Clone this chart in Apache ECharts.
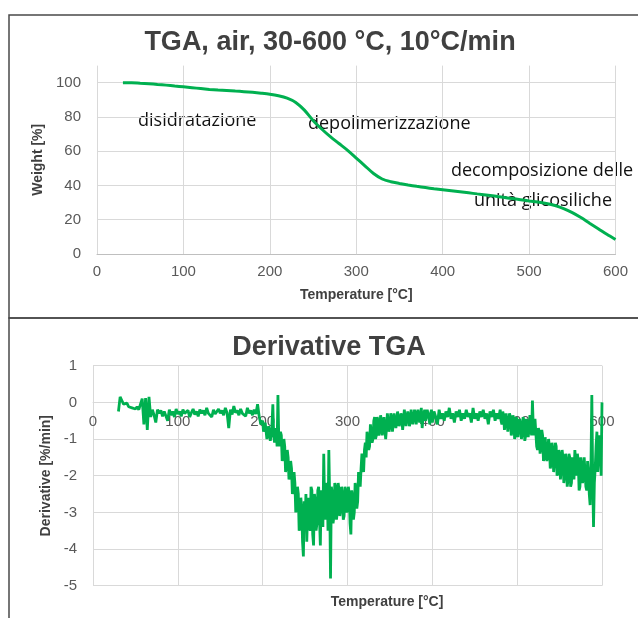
<!DOCTYPE html>
<html>
<head>
<meta charset="utf-8">
<script src="https://cdn.jsdelivr.net/npm/echarts@6/dist/echarts.min.js"></script>
<style>
  html, body { margin: 0; padding: 0; background: #fff; }
  #main { width: 638px; height: 618px; }
</style>
</head>
<body>
<div id="main"></div>
<script>
// TGA curve: temperature [°C] and weight [%]
let tga_temp = [30, 40, 50, 60, 70, 80, 90, 100, 110, 120, 130, 140, 150, 160, 170, 180, 190, 200,
	210, 220, 230, 240, 250, 260, 270, 280, 290, 300, 310, 320, 330, 340, 350, 360, 370, 380, 390, 400,
	410, 420, 430, 440, 450, 460, 470, 480, 490, 500, 510, 520, 530, 540, 550, 560, 570, 580, 590, 600];
let tga_weight = [100, 100, 99.7, 99.4, 99, 98.6, 98.1, 97.6, 97.1, 96.6, 96.1, 95.7, 95.4, 95.1, 94.8, 94.4, 93.9, 93.3,
	92.4, 91, 88.5, 84, 78, 73, 68.5, 64.5, 60.5, 56, 51.5, 47, 43.8, 42.2, 41.2, 40.3, 39.5, 38.8, 38.1, 37.5,
	36.9, 36.3, 35.7, 35.1, 34.5, 33.8, 33.1, 32.4, 31.7, 31, 30.3, 29.5, 28.3, 26.5, 24.2, 21.3, 18, 14.8, 11.5, 8.5];

// DTG curve: [temperature, derivative %/min]
let dtg_points = [
	[30, -0.25], [32, 0.15], [34, 0.05], [36, -0.05], [38, -0.1], [40, -0.02], [42, -0.12], [44, -0.08], [46, -0.15], [48, -0.1],
	[50, -0.18], [52, -0.12], [54, -0.2], [56, -0.15], [58, 0.1], [60, -0.6], [62, 0.12], [64, -0.75], [66, 0.15], [68, -0.4],
	[70, -0.2], [72, -0.35], [74, -0.55], [76, -0.2], [78, -0.3], [80, -0.22], [82, -0.38], [84, -0.25], [86, -0.3], [88, -0.5],
	[90, -0.2], [92, -0.35], [94, -0.25], [96, -0.4], [98, -0.18], [100, -0.32], [102, -0.25], [104, -0.38], [106, -0.2], [108, -0.3],
	[110, -0.35], [112, -0.22], [114, -0.4], [116, -0.28], [118, -0.18], [120, -0.33], [122, -0.25], [124, -0.38], [126, -0.2], [128, -0.3],
	[130, -0.22], [132, -0.35], [134, -0.15], [136, -0.3], [138, -0.25], [140, -0.4], [142, -0.2], [144, -0.32], [146, -0.28], [148, -0.18],
	[150, -0.3], [152, -0.22], [154, -0.35], [156, -0.15], [158, -0.28], [160, -0.7], [162, -0.2], [164, -0.33], [166, -0.1], [168, -0.28],
	[170, -0.22], [172, -0.35], [174, -0.18], [176, -0.3], [178, -0.25], [180, -0.38], [182, -0.15], [184, -0.3], [186, -0.22], [188, -0.35],
	[190, -0.2], [192, -0.32], [194, -0.05], [196, -0.4], [198, -0.6],
	[200, -0.5], [201, -0.8], [202, -0.85], [203, -0.55], [204, -0.6], [205, -1.0], [206, -0.95], [207, -0.65], [208, -0.7], [209, -1.05],
	[210, -0.9], [211, -0.6], [212, -0.05], [213, -0.9], [214, -1.1], [215, -0.7], [216, -0.8], [217, -1.2], [218, 0.2], [219, -1.0],
	[220, -1.2], [221, -0.8], [222, -0.9], [223, -1.6], [224, -1.5], [225, -1.0], [226, -1.2], [227, -1.9], [228, -1.7], [229, -1.3],
	[230, -1.5], [231, -2.1], [232, -2.0], [233, -1.6], [234, -1.8], [235, -2.5], [236, -2.4], [237, -1.9], [238, -2.2], [239, -3.0],
	[240, -2.8], [241, -2.3], [242, -2.5], [243, -3.5], [244, -3.4], [245, -2.6], [246, -2.9], [247, -3.8], [248, -4.2], [249, -2.7],
	[250, -3.2], [251, -2.5], [252, -3.8], [253, -3.0], [254, -2.6], [255, -3.4], [256, -3.5], [257, -2.3], [258, -2.4], [259, -3.6],
	[260, -3.9], [261, -2.5], [262, -2.7], [263, -3.5], [264, -3.3], [265, -2.4], [266, -2.3], [267, -3.2], [268, -3.9], [269, -2.4],
	[270, -2.6], [271, -3.4], [272, -1.4], [273, -2.8], [274, -3.2], [275, -2.3], [276, -2.2], [277, -3.5], [278, -1.3], [279, -2.6],
	[280, -4.8], [281, -2.3], [282, -2.5], [283, -3.3], [284, -3.1], [285, -2.2], [286, -2.3], [287, -3.2], [288, -3.0], [289, -2.2],
	[290, -2.4], [291, -3.1], [292, -2.9], [293, -2.3], [294, -2.5], [295, -3.2], [296, -3.1], [297, -2.3], [298, -2.4], [299, -3.0],
	[300, -2.9], [301, -2.3], [302, -2.5], [303, -3.3], [304, -3.6], [305, -2.4], [306, -2.6], [307, -3.2], [308, -3.0], [309, -2.2],
	[310, -2.4], [311, -2.9], [312, -2.7], [313, -1.9], [314, -2.1], [315, -2.3], [316, -1.8], [317, -1.4], [318, -1.6], [319, -1.9],
	[320, -1.3], [321, -1.1], [322, -1.5], [323, -0.8], [324, -1.0], [325, -1.3], [326, -1.2], [327, -0.6], [328, -0.8], [329, -1.1],
	[330, -1.0], [331, -0.5], [332, -0.4], [333, -1.0], [334, -0.9], [335, -0.4], [336, -0.5], [337, -0.9], [338, -0.8], [339, -0.35],
	[340, -0.5], [341, -0.9], [342, -0.95], [343, -0.4], [344, -0.45], [345, -1.0], [346, -0.7], [347, -0.3], [348, -0.3], [349, -0.8],
	[350, -0.65], [351, -0.3], [352, -0.4], [353, -0.8], [354, -0.75], [355, -0.3], [356, -0.35], [357, -0.7], [358, -0.55], [359, -0.25],
	[360, -0.3], [361, -0.65], [362, -0.7], [363, -0.3], [364, -0.4], [365, -0.75], [366, -0.5], [367, -0.2], [368, -0.25], [369, -0.65],
	[370, -0.6], [371, -0.25], [372, -0.35], [373, -0.65], [374, -0.5], [375, -0.2], [376, -0.2], [377, -0.6], [378, -0.45], [379, -0.2],
	[380, -0.3], [381, -0.6], [382, -0.55], [383, -0.2], [384, -0.25], [385, -0.55], [386, -0.4], [387, -0.15], [388, -0.7], [389, -0.45],
	[390, -0.3], [391, -0.2], [392, -0.5], [393, -0.55], [394, -0.2], [395, -0.15], [396, -0.45], [397, -0.6], [398, -0.3], [399, -0.2],
	[400, -0.55], [402, -0.25], [404, -0.4], [406, -0.6], [408, -0.2], [410, -0.45], [412, -0.3], [414, -0.5], [416, -0.25], [418, -0.4],
	[420, -0.15], [422, -0.45], [424, -0.3], [426, -0.55], [428, -0.25], [430, -0.4], [432, -0.2], [434, -0.5], [436, -0.3], [438, -0.45],
	[440, -0.2], [442, -0.4], [444, -0.3], [446, -0.55], [448, -0.15], [450, -0.45], [452, -0.3], [454, -0.5], [456, -0.25], [458, -0.4],
	[460, -0.2], [462, -0.45], [464, -0.3], [466, -0.6], [468, -0.25], [470, -0.4], [472, -0.2], [474, -0.5], [476, -0.3], [478, -0.45],
	[480, -0.2], [481, -0.5], [482, -0.6], [483, -0.25], [484, -0.35], [485, -0.75], [486, -0.7], [487, -0.3], [488, -0.3], [489, -0.8],
	[490, -0.55], [491, -0.3], [492, -0.4], [493, -0.9], [494, -0.8], [495, -0.35], [496, -0.45], [497, -1.0], [498, -0.9], [499, -0.4],
	[500, -0.5], [501, -0.95], [502, -1.0], [503, -0.45], [504, -0.6], [505, -1.0], [506, -0.85], [507, -0.4], [508, -0.5], [509, -1.05],
	[510, -0.9], [511, -0.45], [512, -0.4], [513, -0.95], [514, -0.75], [515, -0.35], [516, -0.3], [517, -0.9], [518, 0.05], [519, -0.7],
	[520, -0.9], [521, -0.45], [522, -0.5], [523, -1.2], [524, -1.3], [525, -0.7], [526, -0.8], [527, -1.4], [528, -1.2], [529, -0.75],
	[530, -0.9], [531, -1.6], [532, -1.5], [533, -0.95], [534, -1.0], [535, -1.6], [536, -1.4], [537, -1.0], [538, -1.2], [539, -1.8],
	[540, -1.7], [541, -1.1], [542, -1.3], [543, -1.9], [544, -1.6], [545, -1.1], [546, -1.2], [547, -2.0], [548, -1.9], [549, -1.3],
	[550, -1.4], [551, -2.1], [552, -1.8], [553, -1.3], [554, -1.5], [555, -2.2], [556, -2.0], [557, -1.4], [558, -1.6], [559, -2.3],
	[560, -2.1], [561, -1.4], [562, -1.5], [563, -2.3], [564, -2.2], [565, -1.5], [566, -1.7], [567, -2.1], [568, -1.3], [569, -1.6],
	[570, -2.0], [571, -1.4], [572, -1.6], [573, -2.4], [574, -2.3], [575, -1.5], [576, -1.7], [577, -2.2], [578, -2.1], [579, -1.5],
	[580, -1.5], [581, -2.3], [582, -2.4], [583, -1.6], [584, -1.9], [585, -2.5], [586, -2.8], [587, -1.7], [588, 0.2], [589, -2.0],
	[590, -3.4], [591, -2.2], [592, -1.8], [593, -1.2], [594, -0.8], [595, -1.9], [596, -1.5], [597, -0.9], [598, -1.0], [599, -2.0],
	[600, 0.0]
];

let titles = ['TGA, air, 30-600 °C, 10°C/min', 'Derivative TGA'];
let x_name = 'Temperature [°C]';
let y_names = ['Weight [%]', 'Derivative [%/min]'];
let notes = ['disidratazione', 'depolimerizzazione', 'decomposizione delle', 'unità glicosiliche'];

let font = '"Liberation Sans", Arial, sans-serif';
let grid_color = '#d9d9d9';
let label_color = '#595959';
let green = '#00b050';

let chart = echarts.init(document.getElementById('main'));

let tga_data = [];
for (let i = 0; i < tga_temp.length; i++) {
	tga_data.push([tga_temp[i], tga_weight[i]]);
}

let axis_label = { color: label_color, fontSize: 15, fontFamily: font };
let name_style = { color: '#404040', fontSize: 14, fontWeight: 'bold', fontFamily: font };
let title_style = { color: '#404040', fontSize: 27, fontWeight: 'bold', fontFamily: font };
let note_style = (text, x, y) => ({
	type: 'text',
	style: { text: text, x: x, y: y, fill: '#111', font: '18px "Open Sans", sans-serif', textVerticalAlign: 'middle' },
});

// 下图的x轴画在0那条线上 (grid高220 范围-5~1)
let dtg_axis_offset = -220 * 5 / 6;

let option = {
	animation: false,
	title: [
		{ text: titles[0], left: 325, top: 24, textAlign: 'center', textStyle: title_style },
		{ text: titles[1], left: 324, top: 329, textAlign: 'center', textStyle: title_style },
	],
	// v6 默认会把轴名称收进容器里 这里关掉
	grid: [
		{ left: 97, top: 65.6, width: 518.5, height: 188.4, outerBoundsMode: 'none', containLabel: false },
		{ left: 93, top: 365.7, width: 509, height: 220, outerBoundsMode: 'none', containLabel: false },
	],
	xAxis: [
		{
			gridIndex: 0, type: 'value', min: 0, max: 600, interval: 100,
			name: x_name, nameLocation: 'middle', nameGap: 34, nameTextStyle: name_style,
			axisLine: { lineStyle: { color: '#bfbfbf' } },
			axisTick: { show: false },
			axisLabel: Object.assign({ margin: 10 }, axis_label),
			splitLine: { lineStyle: { color: grid_color } },
		},
		{
			gridIndex: 1, type: 'value', min: 0, max: 600, interval: 100,
			position: 'bottom', offset: dtg_axis_offset,
			name: x_name, nameLocation: 'middle', nameGap: 193, nameTextStyle: Object.assign({ padding: [0, 0, 0, 79] }, name_style),
			axisLine: { onZero: false, lineStyle: { color: grid_color } },
			axisTick: { show: false },
			axisLabel: Object.assign({ margin: 12 }, axis_label),
			splitLine: { lineStyle: { color: grid_color } },
		},
	],
	yAxis: [
		{
			gridIndex: 0, type: 'value', min: 0, max: 110, interval: 20,
			name: y_names[0], nameLocation: 'middle', nameGap: 51, nameTextStyle: name_style,
			axisLine: { show: false },
			axisTick: { show: false },
			axisLabel: Object.assign({ margin: 16, showMaxLabel: false }, axis_label),
			// 最上面110那条不画
			splitLine: { lineStyle: { color: [grid_color, grid_color, grid_color, grid_color, grid_color, grid_color, 'rgba(0,0,0,0)'] } },
		},
		{
			gridIndex: 1, type: 'value', min: -5, max: 1, interval: 1,
			name: y_names[1], nameLocation: 'middle', nameGap: 39, nameTextStyle: name_style,
			axisLine: { show: false },
			axisTick: { show: false },
			axisLabel: Object.assign({ margin: 16 }, axis_label),
			splitLine: { lineStyle: { color: grid_color } },
		},
	],
	series: [
		{
			type: 'line', xAxisIndex: 0, yAxisIndex: 0, data: tga_data,
			smooth: 0.3, showSymbol: false,
			lineStyle: { color: green, width: 3 },
		},
		{
			type: 'line', xAxisIndex: 1, yAxisIndex: 1, data: dtg_points,
			showSymbol: false, z: 5,
			lineStyle: { color: green, width: 2.8 },
		},
	],
	graphic: [
		// 外框
		{ type: 'rect', shape: { x: 9, y: 15, width: 640, height: 303 }, style: { fill: 'none', stroke: '#4a4a4a', lineWidth: 1.5 }, z: 100 },
		{ type: 'rect', shape: { x: 9, y: 318, width: 640, height: 320 }, style: { fill: 'none', stroke: '#4a4a4a', lineWidth: 1.5 }, z: 100 },
		note_style(notes[0], 138, 121),
		note_style(notes[1], 308, 124),
		note_style(notes[2], 451, 171),
		note_style(notes[3], 474, 201),
	],
};

chart.setOption(option);
</script>
</body>
</html>
